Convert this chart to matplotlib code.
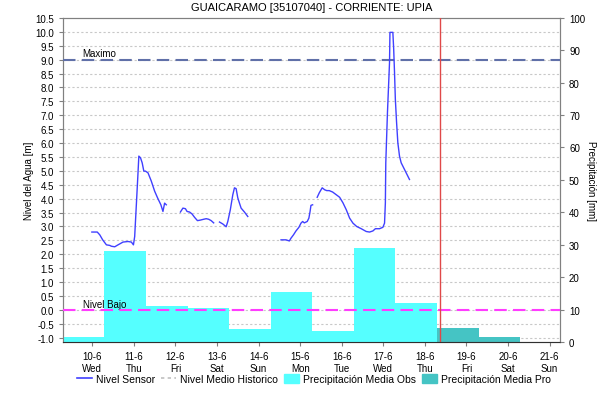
import numpy as np
import matplotlib
matplotlib.use("Agg")
import matplotlib.pyplot as plt
from matplotlib.lines import Line2D
from matplotlib.patches import Patch
from matplotlib.ticker import FixedLocator, MultipleLocator
import datetime

plt.rcParams['font.family'] = ['Liberation Sans', 'DejaVu Sans']
plt.rcParams['font.size'] = 7

base = datetime.datetime(2020, 6, 10)

# nivel sensor, days from 10-6 00:00 -> level [m]; NaN splits the gaps
sensor_days = [
    -0.01, 0.12, 0.18, 0.25, 0.34, 0.42, 0.46, 0.54, 0.62, 0.74, 0.86, 0.94, 0.99,
    1.02, 1.06, 1.10, 1.12, 1.16, 1.20, 1.24, 1.28, 1.34, 1.42, 1.50, 1.57, 1.65,
    1.70, 1.74, 1.78, 1.90,
    2.12, 2.18, 2.24, 2.28, 2.34, 2.40, 2.46, 2.53, 2.60, 2.68, 2.74, 2.80, 2.86,
    2.92, 2.99,
    3.06, 3.14, 3.22, 3.26, 3.32, 3.38, 3.42, 3.46, 3.50, 3.54, 3.58, 3.66, 3.74,
    3.90,
    4.54, 4.66, 4.74, 4.78, 4.84, 4.90, 4.97, 5.02, 5.06, 5.10, 5.17, 5.21, 5.24,
    5.26, 5.30, 5.35,
    5.41, 5.46, 5.53, 5.59, 5.64, 5.70, 5.78, 5.87, 5.95, 6.03, 6.11, 6.19, 6.27,
    6.36, 6.47, 6.59, 6.67, 6.75, 6.81, 6.91, 6.99, 7.03, 7.05, 7.06, 7.10, 7.15,
    7.16, 7.23, 7.25, 7.27, 7.29, 7.32, 7.35, 7.39, 7.43, 7.51, 7.63,
]
sensor_level = [
    2.80, 2.80, 2.70, 2.52, 2.34, 2.32, 2.29, 2.27, 2.34, 2.44, 2.46, 2.44, 2.34,
    2.64, 3.78, 4.93, 5.53, 5.47, 5.29, 4.99, 4.99, 4.93, 4.63, 4.27, 4.03, 3.78,
    3.54, 3.84, 3.78, np.nan,
    3.52, 3.66, 3.64, 3.54, 3.52, 3.45, 3.33, 3.21, 3.23, 3.26, 3.28, 3.26, 3.21,
    3.13, np.nan,
    3.16, 3.09, 2.99, 3.18, 3.60, 4.14, 4.39, 4.36, 4.03, 3.84, 3.66, 3.52, 3.36,
    np.nan,
    2.52, 2.52, 2.48, 2.58, 2.70, 2.84, 2.97, 3.12, 3.18, 3.13, 3.18, 3.30, 3.55,
    3.76, 3.78, np.nan,
    4.05, 4.21, 4.39, 4.32, 4.29, 4.29, 4.24, 4.14, 4.05, 3.85, 3.60, 3.30, 3.12,
    3.00, 2.92, 2.82, 2.80, 2.84, 2.92, 2.92, 2.97, 3.12, 3.85, 5.29, 7.09, 8.90,
    9.98, 9.98, 9.38, 8.54, 7.57, 6.73, 6.01, 5.53, 5.29, 5.05, 4.69,
]

# daily rainfall (07:00 to 07:00), first day starts 9-6
precip_obs = [1.5, 28.2, 11.1, 10.5, 4.0, 15.5, 3.4, 29.0, 12.0]
precip_pro = [1.5, 4.3, 1.5]
obs_start = base + datetime.timedelta(hours=-17)
pro_start = base + datetime.timedelta(days=7, hours=7)

nivel_maximo = 9.0
nivel_bajo = 0.0
ahora = base + datetime.timedelta(days=8, hours=8, minutes=30)

ylim_left = (-1.15, 10.5)
ylim_right = (0, 100)

t_sensor = [base + datetime.timedelta(days=d) for d in sensor_days]
t_obs = [obs_start + datetime.timedelta(days=i) for i in range(len(precip_obs))]
t_pro = [pro_start + datetime.timedelta(days=i) for i in range(len(precip_pro))]

fig = plt.figure(figsize=(6.1, 4.02), dpi=100)
ax1 = fig.add_axes([0.103, 0.147, 0.815, 0.806])
ax2 = ax1.twinx()
ax1.set_zorder(2)
ax1.patch.set_visible(False)
ax2.set_zorder(1)

# precipitation bars behind everything
ax2.bar(t_pro, precip_pro, width=1.0, align='edge', color='#45c4c4', zorder=2)
ax2.bar(t_obs, precip_obs, width=1.0, align='edge', color='#55ffff', zorder=3)
ax2.set_ylim(*ylim_right)
ax2.yaxis.set_major_locator(MultipleLocator(10))
ax2.set_ylabel('Precipitación [mm]', rotation=-90, labelpad=8)

# grid on the back axes, aligned with the left scale
left_ticks = np.arange(-1.0, 10.51, 0.5)
grid_pos = (left_ticks - ylim_left[0]) / (ylim_left[1] - ylim_left[0]) * 100
ax2.yaxis.set_minor_locator(FixedLocator(grid_pos))
ax2.tick_params(axis='y', which='minor', length=0)
ax2.grid(True, which='minor', axis='y', color='#c8c8c8', linestyle=(0, (2, 2)), lw=0.8)
ax2.grid(True, which='major', axis='x', color='#c8c8c8', linestyle=(0, (2, 2)), lw=0.8)
ax2.set_axisbelow(True)

ax1.plot(t_sensor, sensor_level, color='#4040ff', lw=1.0, zorder=5)
ax1.axhline(nivel_maximo, color='#6070a8', lw=1.5, dashes=(6, 3), zorder=4)
ax1.axhline(nivel_bajo, color='#ff3cff', lw=1.5, dashes=(6, 3), zorder=4)
ax1.axvline(ahora, color='#e04848', lw=1.0, zorder=4)
ax1.text(base + datetime.timedelta(hours=4), nivel_maximo + 0.04, 'Maximo',
         ha='center', va='bottom', fontsize=7)
ax1.text(base + datetime.timedelta(hours=7), nivel_bajo + 0.04, 'Nivel Bajo',
         ha='center', va='bottom', fontsize=7)

ax1.set_ylim(*ylim_left)
ax1.set_yticks(left_ticks)
ax1.set_yticklabels(['%.1f' % v for v in left_ticks])
ax1.set_ylabel('Nivel del Agua [m]', labelpad=1)

ax1.set_xlim(obs_start, base + datetime.timedelta(days=11, hours=6))
days = [base + datetime.timedelta(days=i) for i in range(12)]
ax1.set_xticks(days)
ax1.set_xticklabels(['%d-%d\n%s' % (d.day, d.month, d.strftime('%a')) for d in days])
ax2.set_xticks(days)

for ax in (ax1, ax2):
    for s in ax.spines.values():
        s.set_color('#808080')
    ax.tick_params(colors='#808080', labelcolor='black', length=3, width=0.8)
ax1.spines['bottom'].set_linestyle((0, (1, 1)))
ax1.spines['bottom'].set_color('#303030')

ax1.set_title('GUAICARAMO [35107040] - CORRIENTE: UPIA', fontsize=8, pad=6)

handles = [
    Line2D([], [], color='#4040ff', lw=1.2),
    Line2D([], [], color='#c0c0c0', lw=1.2, linestyle=(0, (2, 2))),
    Patch(color='#55ffff'),
    Patch(color='#45c4c4'),
]
labels = ['Nivel Sensor', 'Nivel Medio Historico', 'Precipitación Media Obs',
          'Precipitación Media Pro']
fig.legend(handles, labels, loc='center', bbox_to_anchor=(0.515, 0.055), ncol=4,
           frameon=False, fontsize=7.5, handlelength=1.4, handletextpad=0.4,
           columnspacing=0.6, handleheight=1.0)

fig.savefig('out.png', dpi=100)
